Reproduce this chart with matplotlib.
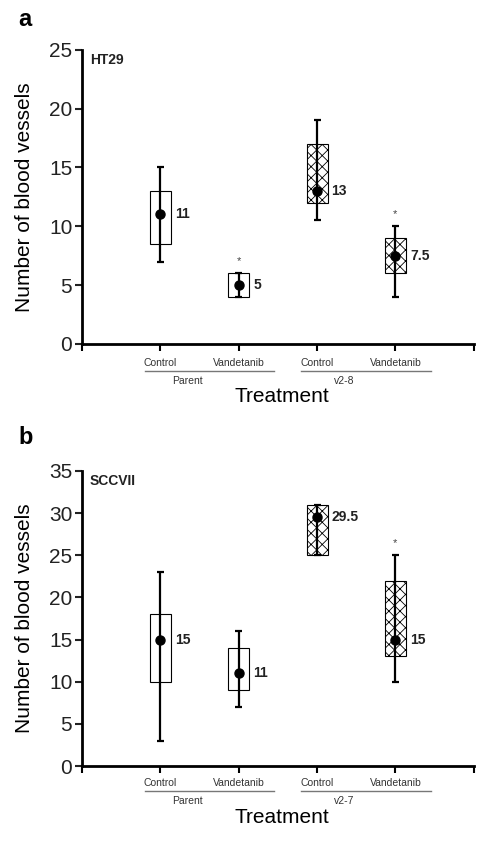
import matplotlib.pyplot as plt
import matplotlib.transforms as mtransforms

# categories
conditions = ["Control", "Vandetanib", "Control", "Vandetanib"]
positions = [1, 2, 3, 4]
hatched = [False, False, True, True]

# panel a (HT29)
a_groups = ["Parent", "v2-8"]
a_median = [11, 5, 13, 7.5]
a_q1 = [8.5, 4, 12, 6]
a_q3 = [13, 6, 17, 9]
a_low = [7, 4, 10.5, 4]
a_high = [15, 6, 19, 10]
a_star = [False, True, False, True]
a_labels = ["11", "5", "13", "7.5"]

# panel b (SCCVII)
b_groups = ["Parent", "v2-7"]
b_median = [15, 11, 29.5, 15]
b_q1 = [10, 9, 25, 13]
b_q3 = [18, 14, 31, 22]
b_low = [3, 7, 25, 10]
b_high = [23, 16, 31, 25]
b_star = [False, False, False, True]
b_labels = ["15", "11", "29.5", "15"]

plt.rcParams['font.family'] = 'Liberation Sans'
plt.rcParams['hatch.color'] = '#555555'
plt.rcParams['hatch.linewidth'] = 0.6

fig = plt.figure(figsize=(4.91, 8.43), dpi=100)
ax_a = fig.add_axes([0.167, 0.592, 0.798, 0.349])
ax_b = fig.add_axes([0.167, 0.0913, 0.798, 0.350])


def draw_panel(ax, median, q1, q3, low, high, star, labels, groups, ymax, cell, ylow):
    w = 0.27
    cap = 0.09
    for i, x in enumerate(positions):
        ax.bar(x, q3[i] - q1[i], bottom=q1[i], width=w, color='white',
               edgecolor='black', linewidth=0.8,
               hatch='xxx' if hatched[i] else None, zorder=2)
        ax.vlines(x, low[i], high[i], color='black', linewidth=1.6, zorder=3)
        ax.hlines([low[i], high[i]], x - cap / 2, x + cap / 2, color='black',
                  linewidth=1.6, zorder=3)
        ax.plot(x, median[i], 'o', color='black', markersize=6.5, zorder=4)
        ax.text(x + w / 2 + 0.05, median[i], labels[i], fontsize=10,
                fontweight='bold', va='center', ha='left', color='#222222')
        if star[i]:
            ax.text(x, high[i] + ymax * 0.04, '*', fontsize=8, ha='center',
                    va='center', color='#444444')

    ax.set_xlim(0, 5)
    ax.set_ylim(0, ymax)
    ax.set_xticks([0, 1, 2, 3, 4, 5])
    ax.set_xticklabels([])
    ax.set_yticks(range(0, ymax + 1, 5))
    ax.tick_params(axis='y', labelsize=15, width=1.5, length=5, pad=2,
                   colors='#222222')
    ax.tick_params(axis='x', width=1.5, length=5)
    for s in ['top', 'right']:
        ax.spines[s].set_visible(False)
    for s in ['left', 'bottom']:
        ax.spines[s].set_linewidth(2)
    ax.set_ylabel('Number of blood vessels', fontsize=15, labelpad=11)

    trans = mtransforms.blended_transform_factory(ax.transData, ax.transAxes)
    for x, c in zip(positions, conditions):
        ax.text(x, ylow, c, fontsize=7.5, ha='center', va='center',
                transform=trans, color='#333333')
    for j, g in enumerate(groups):
        x0, x1 = positions[2 * j], positions[2 * j + 1]
        ax.plot([x0 - 0.2, x1 + 0.45], [ylow - 0.028, ylow - 0.028],
                color='#777777', linewidth=1, transform=trans, clip_on=False)
        ax.text((x0 + x1) / 2 - 0.15, ylow - 0.062, g, fontsize=7.5,
                ha='center', va='center', transform=trans, color='#333333')
    ax.text(2.55, ylow - 0.115, 'Treatment', fontsize=15, ha='center',
            va='center', transform=trans)
    ax.text(0.1, ymax * 0.965, cell, fontsize=10, fontweight='bold',
            ha='left', va='center', color='#222222')


draw_panel(ax_a, a_median, a_q1, a_q3, a_low, a_high, a_star, a_labels,
           a_groups, 25, 'HT29', -0.065)
draw_panel(ax_b, b_median, b_q1, b_q3, b_low, b_high, b_star, b_labels,
           b_groups, 35, 'SCCVII', -0.058)

fig.text(18 / 491, 1 - 20 / 843, 'a', fontsize=17, fontweight='bold',
         ha='left', va='center')
fig.text(18 / 491, 1 - 438 / 843, 'b', fontsize=17, fontweight='bold',
         ha='left', va='center')

fig.savefig('out.png', dpi=100)
